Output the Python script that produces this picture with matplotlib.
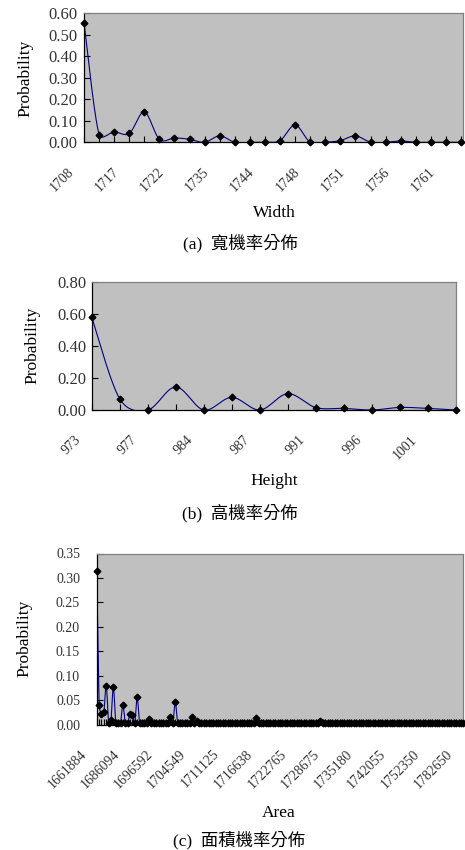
import matplotlib

matplotlib.use("Agg")
import matplotlib.pyplot as plt
import numpy as np
from matplotlib.transforms import ScaledTranslation

plt.rcParams["font.family"] = ["Liberation Serif", "Noto Sans CJK TC"]

# width: 26 categories, every third one is labelled
width_labels = ["1708", "1717", "1722", "1735", "1744", "1748", "1751", "1756", "1761"]
width_prob = [0.555, 0.036, 0.048, 0.041, 0.141, 0.014, 0.020, 0.014, 0.000, 0.030,
              0.000, 0.000, 0.000, 0.008, 0.080, 0.000, 0.000, 0.008, 0.030, 0.000,
              0.000, 0.006, 0.000, 0.000, 0.000, 0.000]

# height: 14 categories, every second one is labelled
height_labels = ["973", "977", "984", "987", "991", "996", "1001"]
height_prob = [0.580, 0.070, 0.000, 0.144, 0.000, 0.079, 0.000, 0.102, 0.015, 0.010,
               0.000, 0.016, 0.010, 0.000]

# area: 155 categories, every fourteenth one is labelled
area_labels = ["1661884", "1686094", "1696592", "1704549", "1711125", "1716638",
               "1722765", "1728675", "1735180", "1742055", "1752350", "1782650"]
area_prob = [
    0.315, 0.040, 0.022, 0.025, 0.080, 0.004, 0.010, 0.078, 0.004, 0.004, 0.004, 0.040, 0.004, 0.004, 0.022,
    0.020, 0.004, 0.056, 0.004, 0.004, 0.004, 0.004, 0.011, 0.004, 0.004, 0.004, 0.004, 0.004, 0.004, 0.004,
    0.004, 0.016, 0.004, 0.046, 0.004, 0.004, 0.004, 0.004, 0.004, 0.004, 0.016, 0.004, 0.008, 0.004, 0.004,
    0.004, 0.004, 0.004, 0.004, 0.004, 0.004, 0.004, 0.004, 0.004, 0.004, 0.004, 0.004, 0.004, 0.004, 0.004,
    0.004, 0.004, 0.004, 0.004, 0.004, 0.004, 0.004, 0.013, 0.004, 0.004, 0.004, 0.004, 0.004, 0.004, 0.004,
    0.004, 0.004, 0.004, 0.004, 0.004, 0.004, 0.004, 0.004, 0.004, 0.004, 0.004, 0.004, 0.004, 0.004, 0.004,
    0.004, 0.004, 0.004, 0.004, 0.008, 0.004, 0.004, 0.004, 0.004, 0.004, 0.004, 0.004, 0.004, 0.004, 0.004,
    0.004, 0.004, 0.004, 0.004, 0.004, 0.004, 0.004, 0.004, 0.004, 0.004, 0.004, 0.004, 0.004, 0.004, 0.004,
    0.004, 0.004, 0.004, 0.004, 0.004, 0.004, 0.004, 0.004, 0.004, 0.004, 0.004, 0.004, 0.004, 0.004, 0.004,
    0.004, 0.004, 0.004, 0.004, 0.004, 0.004, 0.004, 0.004, 0.004, 0.004, 0.004, 0.004, 0.004, 0.004, 0.004,
    0.004, 0.004, 0.004, 0.004, 0.004,
]

W, H = 465, 850
PLOT_BG = "#c0c0c0"
LINE = "#000080"


def fx(px):
    return px / W


def fy(py):
    return 1 - py / H


def smooth(values, sx, sy, steps=16):
    # smoothed line: cubic Bezier through every point; each control arm is
    # a sixth of the neighbour chord, capped at half the segment (pixels)
    y = np.asarray(values, dtype=float)
    p = np.column_stack([np.arange(len(y), dtype=float) * sx, y * sy])
    padded = np.vstack([p[:1], p, p[-1:]])
    t = np.linspace(0, 1, steps, endpoint=False)[:, None]
    pieces = []
    for i in range(len(p) - 1):
        p0, p1, p2, p3 = padded[i:i + 4]
        d12 = np.hypot(*(p2 - p1))
        d02 = np.hypot(*(p2 - p0))
        d13 = np.hypot(*(p3 - p1))
        f0 = 1 / 6 if d02 / 6 < d12 / 2 else d12 / d02 / 2
        f3 = 1 / 6 if d13 / 6 < d12 / 2 else d12 / d13 / 2
        c1 = p1 + (p2 - p0) * f0
        c2 = p2 - (p3 - p1) * f3
        pieces.append((1 - t) ** 3 * p1 + 3 * (1 - t) ** 2 * t * c1 + 3 * (1 - t) * t ** 2 * c2 + t ** 3 * p2)
    pieces.append(p[-1:])
    out = np.vstack(pieces)
    return out[:, 0] / sx, out[:, 1] / sy


def draw_panel(fig, box, values, labels, step, ymax, ystep, xmax, ytick_size, ytick_pad):
    left, top, right, bottom = box
    axis = fig.add_axes([fx(left), fy(bottom), (right - left) / W, (bottom - top) / H])
    axis.set_facecolor(PLOT_BG)
    xs, ys = smooth(values, (right - left) / xmax, (bottom - top) / ymax)
    axis.plot(xs, ys, color=LINE, linewidth=0.8, zorder=2)
    axis.plot(np.arange(len(values)), values, linestyle="none", marker="D", markersize=3.4,
              color="black", zorder=3, clip_on=False)
    axis.set_xlim(0, xmax)
    axis.set_ylim(0, ymax)

    yticks = np.arange(0, ymax + ystep / 2, ystep)
    axis.set_yticks(yticks, [f"{v:.2f}" for v in yticks])
    axis.set_xticks(np.arange(0, len(values), step), labels)
    axis.set_xticks(np.arange(len(values)), minor=True)
    axis.tick_params(axis="both", which="both", direction="in", length=4, width=0.8, color="black")
    axis.tick_params(axis="y", pad=ytick_pad, labelsize=ytick_size, labelcolor="#333333")
    axis.tick_params(axis="x", pad=16.5, labelsize=10, labelcolor="#333333")
    shift = ScaledTranslation(-8 / 100, 0, fig.dpi_scale_trans)
    for label in axis.get_xticklabels():
        label.set_rotation(45)
        label.set_ha("right")
        label.set_va("top")
        label.set_transform(label.get_transform() + shift)

    for side in ("left", "bottom"):
        axis.spines[side].set_color("black")
        axis.spines[side].set_linewidth(0.9)
    for side in ("top", "right"):
        axis.spines[side].set_color("#808080")
        axis.spines[side].set_linewidth(0.9)
    return axis


figure = plt.figure(figsize=(W / 100, H / 100), dpi=100)

draw_panel(figure, (84, 13, 463, 142.3), width_prob, width_labels, 3, 0.6, 0.1, 25.13, 12, 5)
draw_panel(figure, (91.7, 282, 456, 410), height_prob, height_labels, 2, 0.8, 0.2, 13, 12, 4)
draw_panel(figure, (96.7, 553.5, 463.3, 724.7), area_prob, area_labels, 14, 0.35, 0.05, 154, 10, 12)

texts = [
    ((25, 78), (274, 213), (240, 243), "Width", "(a)  寬機率分佈"),
    ((32, 345), (274, 481), (240, 513), "Height", "(b)  高機率分佈"),
    ((24, 638), (279, 813), (239, 840), "Area", "(c)  面積機率分佈"),
]
for ylab, xlab, cap, name, caption in texts:
    figure.text(fx(ylab[0]), fy(ylab[1]), "Probability", rotation=90, ha="center", va="center", fontsize=12.5)
    figure.text(fx(xlab[0]), fy(xlab[1]), name, ha="center", va="center", fontsize=12.5)
    figure.text(fx(cap[0]), fy(cap[1]), caption, ha="center", va="center", fontsize=12.5)

figure.savefig("out.png", dpi=100)
